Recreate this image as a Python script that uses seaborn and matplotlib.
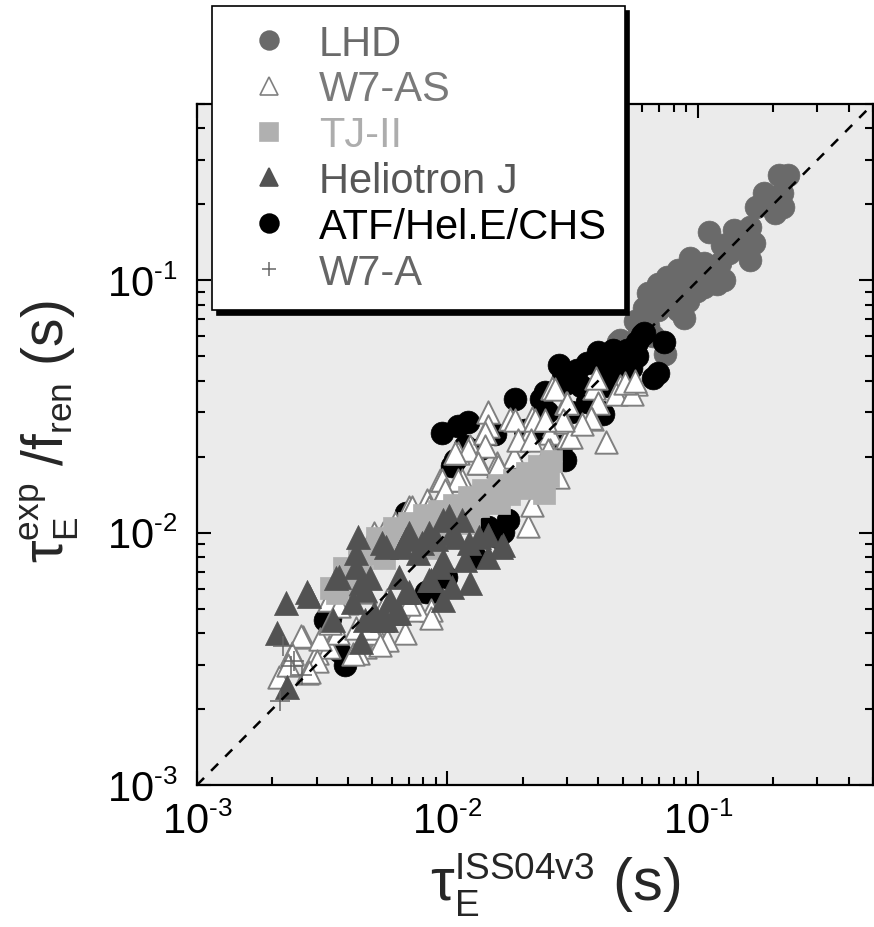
import numpy as np
import pandas as pd
import matplotlib
matplotlib.use("Agg")
import matplotlib.pyplot as plt
import matplotlib._mathtext as mathtext_engine
from matplotlib.lines import Line2D
from matplotlib.ticker import LogLocator, FuncFormatter, NullFormatter
import seaborn as sns

# ---------------------------------------------------------------------------
# Confinement data: ISS04v3 prediction (x) vs. experimental tau_E / f_ren (y), s
# ---------------------------------------------------------------------------
lhd_x = [0.210, 0.228, 0.183, 0.217, 0.171, 0.205, 0.219, 0.203, 0.186, 0.111,
         0.139, 0.161, 0.152, 0.167, 0.161, 0.093, 0.106, 0.122, 0.116, 0.127,
         0.083, 0.075, 0.069, 0.077, 0.091, 0.106, 0.119, 0.063, 0.075, 0.091,
         0.061, 0.069, 0.083, 0.088, 0.048, 0.056, 0.063, 0.099, 0.074, 0.049,
         0.133, 0.145, 0.125, 0.058, 0.066, 0.080, 0.100]
lhd_y = [0.262, 0.262, 0.222, 0.222, 0.196, 0.203, 0.196, 0.185, 0.203, 0.155,
         0.158, 0.163, 0.144, 0.141, 0.120, 0.123, 0.117, 0.117, 0.107, 0.100,
         0.110, 0.103, 0.097, 0.094, 0.094, 0.094, 0.097, 0.089, 0.086, 0.083,
         0.078, 0.076, 0.076, 0.071, 0.057, 0.069, 0.066, 0.091, 0.051, 0.058,
         0.128, 0.135, 0.138, 0.062, 0.060, 0.090, 0.108]

atf_x = [0.061, 0.073, 0.066, 0.069, 0.028, 0.040, 0.046, 0.052, 0.057, 0.036,
         0.042, 0.049, 0.057, 0.031, 0.034, 0.042, 0.0245, 0.025, 0.031, 0.041,
         0.029, 0.0186, 0.0236, 0.0294, 0.0095, 0.011, 0.0121, 0.0107, 0.0118, 0.0204,
         0.0284, 0.0294, 0.0068, 0.0129, 0.0159, 0.0104, 0.0099, 0.0086, 0.0082, 0.00325,
         0.0037, 0.0039, 0.0034, 0.060, 0.0416, 0.022, 0.045, 0.050, 0.054, 0.036,
         0.033, 0.0155, 0.0135, 0.0145, 0.0175, 0.0167]
atf_y = [0.062, 0.057, 0.041, 0.043, 0.046, 0.052, 0.053, 0.053, 0.057, 0.047,
         0.045, 0.047, 0.050, 0.041, 0.038, 0.038, 0.036, 0.030, 0.030, 0.030,
         0.041, 0.034, 0.034, 0.039, 0.0249, 0.0264, 0.0274, 0.0195, 0.022, 0.0256,
         0.022, 0.0195, 0.012, 0.008, 0.0096, 0.0183, 0.0067, 0.0058, 0.0058, 0.0045,
         0.0034, 0.0030, 0.0046, 0.061, 0.0295, 0.025, 0.042, 0.040, 0.045, 0.033,
         0.044, 0.0245, 0.0215, 0.0105, 0.0112, 0.0101]

w7as_x = [0.0261, 0.0296, 0.0383, 0.0487, 0.0564, 0.047, 0.0544, 0.0398, 0.0376, 0.0431,
          0.0145, 0.0178, 0.0218, 0.0123, 0.0145, 0.0209, 0.0257, 0.0299, 0.011, 0.0134,
          0.0158, 0.0184, 0.0257, 0.0271, 0.0093, 0.00965, 0.00825, 0.0114, 0.0070, 0.0062,
          0.0051, 0.0209, 0.0218, 0.00856, 0.00675, 0.00537, 0.00468, 0.00439, 0.0030, 0.00266,
          0.0024, 0.00213, 0.00276, 0.00337, 0.00366, 0.00508, 0.00573, 0.00337, 0.00397, 0.00468,
          0.00573, 0.0070, 0.0076, 0.00552, 0.0186, 0.0224, 0.0268, 0.030, 0.0294, 0.0141,
          0.0191, 0.0215, 0.0251, 0.031, 0.0141, 0.0121, 0.0107, 0.0133, 0.0159, 0.0275,
          0.0095, 0.011, 0.0098, 0.0084, 0.0072, 0.039, 0.051, 0.0563, 0.0374, 0.0343,
          0.029, 0.0246, 0.0037, 0.0043, 0.0049, 0.0026, 0.0031, 0.0024, 0.0030, 0.0042,
          0.0054, 0.0086, 0.0070, 0.0060, 0.0034, 0.0028, 0.0023]
w7as_y = [0.0376, 0.0327, 0.0376, 0.038, 0.039, 0.0353, 0.0353, 0.0327, 0.0283, 0.0228,
          0.030, 0.0281, 0.0285, 0.022, 0.0264, 0.024, 0.0249, 0.024, 0.0207, 0.0189,
          0.0189, 0.020, 0.0213, 0.017, 0.0162, 0.0145, 0.0135, 0.0162, 0.0126, 0.0109,
          0.0100, 0.0106, 0.0129, 0.00495, 0.0040, 0.00376, 0.00353, 0.00334, 0.00334, 0.00387,
          0.00334, 0.00268, 0.00278, 0.00353, 0.0040, 0.0040, 0.00376, 0.00543, 0.00528, 0.0058,
          0.00543, 0.00543, 0.00495, 0.0100, 0.028, 0.028, 0.037, 0.0327, 0.0274, 0.0249,
          0.0234, 0.0234, 0.0213, 0.024, 0.022, 0.0213, 0.0207, 0.0189, 0.0183, 0.0166,
          0.0162, 0.0162, 0.0148, 0.0126, 0.0126, 0.041, 0.0393, 0.0398, 0.0285, 0.027,
          0.028, 0.028, 0.0051, 0.0042, 0.0042, 0.0039, 0.0038, 0.0033, 0.0031, 0.0033,
          0.0036, 0.0046, 0.0052, 0.0048, 0.0044, 0.0028, 0.0030]

tj2_x = [0.00406, 0.00387, 0.00453, 0.00444, 0.00511, 0.00525, 0.00585, 0.00612, 0.00671, 0.00703,
         0.00769, 0.00805, 0.00882, 0.00923, 0.0101, 0.0106, 0.0116, 0.0122, 0.0133, 0.0139,
         0.0153, 0.0160, 0.0176, 0.0184, 0.0202, 0.0208, 0.0228, 0.0231, 0.0253, 0.0258,
         0.0242, 0.0122, 0.00845, 0.00363, 0.00344, 0.00559, 0.0160]
tj2_y = [0.00634, 0.00726, 0.00695, 0.00795, 0.00832, 0.00954, 0.00888, 0.0104, 0.00954, 0.0109,
         0.0102, 0.0117, 0.0106, 0.0122, 0.0112, 0.0129, 0.0120, 0.0138, 0.0128, 0.0147,
         0.0134, 0.0154, 0.0142, 0.0162, 0.0151, 0.0173, 0.0161, 0.0184, 0.0168, 0.0193,
         0.0144, 0.0109, 0.00873, 0.00578, 0.00606, 0.00795, 0.0131]

helj_x = [0.00226, 0.00208, 0.00276, 0.00229, 0.00359, 0.00439, 0.0043, 0.0055, 0.0043, 0.0045,
          0.0049, 0.0035, 0.0042, 0.0051, 0.0059, 0.0057, 0.0045, 0.0070, 0.0076, 0.0066,
          0.0090, 0.0104, 0.0114, 0.0101, 0.0134, 0.0145, 0.0167, 0.0145, 0.0096, 0.0084,
          0.0104, 0.0123, 0.0096, 0.0064, 0.0047, 0.0070, 0.0028, 0.0037, 0.0047, 0.0068,
          0.0062, 0.0055, 0.0057, 0.0068, 0.0084, 0.0086, 0.0064, 0.0108, 0.0122, 0.0164,
          0.0079, 0.0118, 0.0093, 0.0096]
helj_y = [0.00528, 0.0040, 0.0058, 0.00245, 0.0066, 0.0096, 0.0083, 0.0091, 0.0073, 0.0063,
          0.0066, 0.0045, 0.0053, 0.0048, 0.0054, 0.0045, 0.0037, 0.0100, 0.0083, 0.0088,
          0.0094, 0.0100, 0.0112, 0.0116, 0.0096, 0.0098, 0.0089, 0.0080, 0.0078, 0.0065,
          0.0061, 0.0063, 0.0054, 0.0048, 0.0045, 0.0058, 0.0056, 0.0067, 0.0059, 0.0058,
          0.0048, 0.0045, 0.0088, 0.0094, 0.0100, 0.0065, 0.0067, 0.0096, 0.0091, 0.0088,
          0.0091, 0.0078, 0.0073, 0.0112]

w7a_x = [0.00214, 0.00220, 0.00238, 0.00245, 0.00262]
w7a_y = [0.00215, 0.00356, 0.00297, 0.00310, 0.00272]

series_names = ["LHD", "W7-AS", "TJ-II", "Heliotron J", "ATF/Hel.E/CHS", "W7-A"]
axis_limits = (1e-3, 0.5)

# ---------------------------------------------------------------------------
sns.set_style("ticks")
plt.rcParams.update({
    "font.family": ["Liberation Sans", "DejaVu Sans"],
    "mathtext.fontset": "custom",
    "mathtext.rm": "Liberation Sans",
    "mathtext.it": "Liberation Sans:italic",
    "mathtext.bf": "Liberation Sans:bold",
    "mathtext.default": "regular",
})
# slightly smaller sub/superscripts than the mathtext default
if hasattr(mathtext_engine, "SHRINK_FACTOR"):
    mathtext_engine.SHRINK_FACTOR = 0.62

fig = plt.figure(figsize=(8.74, 9.28), dpi=100)
ax = fig.add_axes([197 / 874, 142 / 928, 676 / 874, 681 / 928])
ax.set_facecolor("#ebebeb")
ax.set_xscale("log")
ax.set_yscale("log")

# name: (x, y, marker, size, face, edge, lw, zorder, legend marker size, text colour)
styles = {
    "LHD": (lhd_x, lhd_y, "o", 270, "#6a6a6a", "#6a6a6a", 0.5, 2, 13.5, "#6a6a6a"),
    "ATF/Hel.E/CHS": (atf_x, atf_y, "o", 270, "black", "black", 0.5, 3, 13.5, "black"),
    "W7-AS": (w7as_x, w7as_y, "^", 260, "white", "#808080", 1.4, 4, 12.5, "#7a7a7a"),
    "TJ-II": (tj2_x, tj2_y, "s", 250, "#b0b0b0", "#b0b0b0", 0.5, 5, 13.5, "#adadad"),
    "Heliotron J": (helj_x, helj_y, "^", 300, "#525252", "#525252", 0.5, 6, 13.5, "#575757"),
    "W7-A": (w7a_x, w7a_y, "+", 200, "#666666", None, 1.1, 7, 10, "#666666"),
}

for name in ["LHD", "ATF/Hel.E/CHS", "W7-AS", "TJ-II", "Heliotron J", "W7-A"]:
    xs, ys, mk, size, fc, ec, lw, z, _, _ = styles[name]
    df = pd.DataFrame({"tau_iss04": xs, "tau_exp": ys})
    sns.scatterplot(data=df, x="tau_iss04", y="tau_exp", marker=mk, s=size,
                    color=fc, edgecolor=ec, linewidth=lw, ax=ax,
                    legend=False, zorder=z)

# unity line
ax.axline((axis_limits[0], axis_limits[0]), (axis_limits[1], axis_limits[1]),
          color="black", lw=1.8, ls=(0, (4, 4)), zorder=10)

ax.set_xlim(*axis_limits)
ax.set_ylim(*axis_limits)


def decade_label(value, pos):
    exponent = int(round(np.log10(value)))
    sign = r"\text{-}" if exponent < 0 else ""
    return rf"$10^{{{sign}{abs(exponent)}}}$"


for axis in (ax.xaxis, ax.yaxis):
    axis.set_major_locator(LogLocator(base=10, numticks=10))
    axis.set_minor_locator(LogLocator(base=10, subs=np.arange(2, 10), numticks=10))
    axis.set_major_formatter(FuncFormatter(decade_label))
    axis.set_minor_formatter(NullFormatter())

ax.tick_params(which="both", direction="in", top=True, right=True,
               colors="black", width=1.5)
ax.tick_params(which="major", length=10, labelsize=30)
ax.tick_params(axis="x", which="major", pad=12)
ax.tick_params(axis="y", which="major", pad=14)
ax.tick_params(which="minor", length=6)
for sp in ax.spines.values():
    sp.set_linewidth(1.6)
    sp.set_color("black")

ax.set_xlabel(r"$\tau_{E}^{ISS04v3}$ (s)", fontsize=43)
ax.set_ylabel(r"$\tau_{E}^{exp}$ /f$_{ren}$ (s)", fontsize=41)
ax.xaxis.set_label_coords(0.53, -0.097)
ax.yaxis.set_label_coords(-0.172, 0.52)

# legend
handles = []
for name in series_names:
    _, _, mk, _, fc, ec, lw, _, msize, _ = styles[name]
    if mk == "+":
        h = Line2D([], [], linestyle="none", marker=mk, markersize=msize,
                   color=fc, markeredgewidth=lw)
    else:
        h = Line2D([], [], linestyle="none", marker=mk, markersize=msize,
                   markerfacecolor=fc, markeredgecolor=ec, markeredgewidth=1.2)
    handles.append(h)

leg = ax.legend(handles, series_names, loc="upper left",
                bbox_to_anchor=(0.0222, 1.1439), borderaxespad=0,
                prop={"size": 30}, frameon=True, fancybox=False,
                framealpha=1, edgecolor="black", facecolor="white",
                borderpad=0.42, labelspacing=0.14, handlelength=1.9,
                handletextpad=0.25,
                shadow={"ox": 3.5, "oy": -3.5, "facecolor": "black",
                        "edgecolor": "black", "alpha": 1})
leg.get_frame().set_linewidth(1.2)
for txt, name in zip(leg.get_texts(), series_names):
    txt.set_color(styles[name][9])

fig.savefig("out.png", dpi=100)
